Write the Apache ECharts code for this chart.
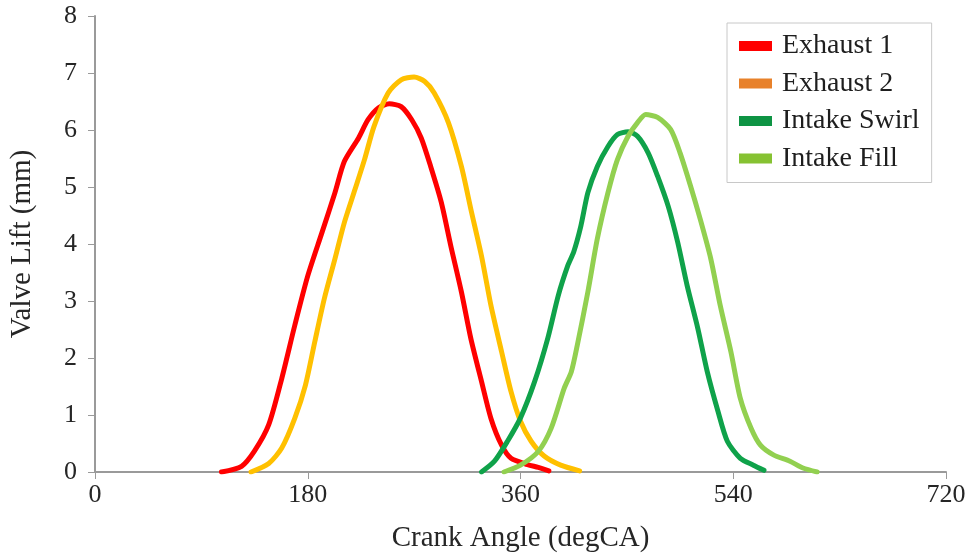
<!DOCTYPE html>
<html>
<head>
<meta charset="utf-8">
<script src="https://cdn.jsdelivr.net/npm/echarts@6/dist/echarts.min.js"></script>
<style>html,body{margin:0;padding:0;background:#fff;}#c{width:969px;height:558px;}</style>
</head>
<body>
<div id="c"></div>
<script>
const seriesNames = ['Exhaust 1', 'Exhaust 2', 'Intake Swirl', 'Intake Fill'];
const xTicks = [0, 180, 360, 540, 720];
const yTicks = [0, 1, 2, 3, 4, 5, 6, 7, 8];

const exhaust1Angle = [107, 124, 135, 147, 158, 169, 180, 192, 203, 211, 223, 231, 240, 249, 259, 268, 276, 284, 293, 301, 310, 318, 327, 335, 344, 352, 366, 375, 384];
const exhaust1Lift  = [0.0, 0.1, 0.37, 0.83, 1.64, 2.57, 3.44, 4.2, 4.9, 5.45, 5.86, 6.18, 6.39, 6.46, 6.41, 6.18, 5.86, 5.36, 4.73, 3.97, 3.16, 2.34, 1.59, 0.94, 0.47, 0.24, 0.13, 0.08, 0.02];

const exhaust2Angle = [132, 147, 158, 169, 178, 186, 194, 203, 211, 220, 228, 236, 248, 259, 270, 279, 287, 299, 310, 318, 327, 335, 344, 352, 360, 369, 380, 394, 410];
const exhaust2Lift  = [0.0, 0.15, 0.42, 0.94, 1.52, 2.29, 3.04, 3.74, 4.38, 4.96, 5.48, 6.06, 6.65, 6.88, 6.93, 6.85, 6.65, 6.13, 5.36, 4.61, 3.79, 2.92, 2.11, 1.41, 0.89, 0.54, 0.28, 0.12, 0.02];

const swirlAngle = [327, 338, 349, 360, 372, 383, 392, 400, 405, 411, 417, 425, 434, 442, 451, 459, 468, 476, 485, 493, 501, 510, 518, 527, 535, 546, 557, 566];
const swirlLift  = [0.0, 0.19, 0.54, 0.95, 1.59, 2.34, 3.1, 3.62, 3.86, 4.31, 4.9, 5.36, 5.71, 5.92, 5.97, 5.89, 5.6, 5.19, 4.66, 4.03, 3.27, 2.52, 1.76, 1.07, 0.54, 0.24, 0.12, 0.03];

const fillAngle = [346, 360, 375, 386, 397, 403, 408, 417, 425, 434, 442, 451, 459, 466, 476, 487, 495, 504, 512, 521, 529, 538, 546, 555, 563, 574, 588, 599, 611];
const fillLift  = [0.0, 0.12, 0.36, 0.77, 1.47, 1.76, 2.22, 3.16, 4.09, 4.9, 5.48, 5.89, 6.13, 6.27, 6.22, 6.01, 5.6, 5.01, 4.44, 3.74, 2.92, 2.11, 1.29, 0.77, 0.47, 0.3, 0.19, 0.07, 0.0];

const lineColors = ['#FF0000', '#FFC000', '#0FA24A', '#92D050'];
const legendColors = ['#FF0000', '#E8812A', '#0E9444', '#86C232'];

function pairs(a, b) { return a.map((x, i) => [x, b[i]]); }
const allData = [
  pairs(exhaust1Angle, exhaust1Lift),
  pairs(exhaust2Angle, exhaust2Lift),
  pairs(swirlAngle, swirlLift),
  pairs(fillAngle, fillLift)
];

const font = '"Liberation Serif", "Times New Roman", serif';
const chart = echarts.init(document.getElementById('c'), null, {renderer: 'canvas'});
chart.setOption({
  animation: false,
  backgroundColor: '#ffffff',
  grid: {left: 93, right: 23, top: 16, bottom: 84, containLabel: false},
  legend: {
    orient: 'vertical',
    left: 727, top: 23,
    icon: 'rect',
    itemWidth: 33, itemHeight: 10, itemGap: 9.5,
    padding: [9, 12, 10, 12],
    backgroundColor: '#ffffff',
    borderColor: '#c8c8c8', borderWidth: 1, borderRadius: 0,
    textStyle: {fontFamily: font, fontSize: 28, lineHeight: 28, color: '#1e1e1e', padding: [0, 0, 0, 5]},
    data: seriesNames.map((n, i) => ({name: n, itemStyle: {color: legendColors[i]}}))
  },
  xAxis: {
    type: 'value', min: 0, max: 720, interval: 180,
    name: 'Crank Angle (degCA)', nameLocation: 'middle', nameGap: 52,
    nameTextStyle: {fontFamily: font, fontSize: 29, color: '#262626'},
    axisLine: {show: true, lineStyle: {color: '#9a9a9a', width: 2}},
    axisTick: {show: true, inside: false, length: 7, lineStyle: {color: '#9a9a9a', width: 1}},
    axisLabel: {fontFamily: font, fontSize: 26, color: '#262626', margin: 10, formatter: v => xTicks.includes(v) ? String(v) : ''},
    splitLine: {show: false}
  },
  yAxis: {
    type: 'value', min: 0, max: 8, interval: 1,
    name: 'Valve Lift (mm)', nameLocation: 'middle', nameGap: 58, nameRotate: 90,
    nameTextStyle: {fontFamily: font, fontSize: 29, color: '#262626'},
    axisLine: {show: true, lineStyle: {color: '#9a9a9a', width: 2}},
    axisTick: {show: true, inside: false, length: 7, lineStyle: {color: '#9a9a9a', width: 1}},
    axisLabel: {fontFamily: font, fontSize: 26, color: '#262626', margin: 18, formatter: v => yTicks.includes(v) ? String(v) : ''},
    splitLine: {show: false}
  },
  series: seriesNames.map((n, i) => ({
    name: n, type: 'line', data: allData[i],
    showSymbol: false, symbol: 'none', smooth: 0.25,
    lineStyle: {color: lineColors[i], width: 5, cap: 'round', join: 'round'},
    itemStyle: {color: legendColors[i]}
  }))
});
</script>
</body>
</html>
